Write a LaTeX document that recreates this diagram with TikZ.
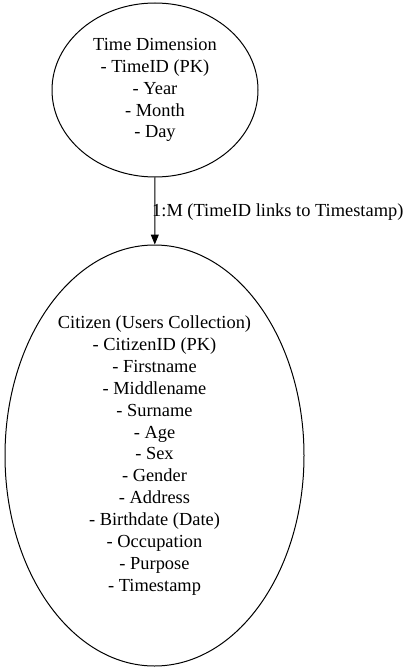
\documentclass[tikz,border=0pt]{standalone}
\usepackage{fontspec}
\setmainfont{Liberation Serif}
\usetikzlibrary{shapes.geometric}
\usetikzlibrary{arrows.meta}

\tikzset{
  entity/.style={draw, ellipse, line width=1pt, inner sep=0pt, align=center,
    font=\fontsize{18.4}{21.9}\selectfont},
  link/.style={line width=1pt, -{Triangle[length=10pt, width=8pt]}}
}

\begin{document}
\begin{tikzpicture}[x=1pt, y=-1pt]
\useasboundingbox (0, 0) rectangle (412, 671);

\node[entity, minimum width=206pt, minimum height=174pt] (time) at (155, 90)
  {Time Dimension\\- TimeID (PK)\\- Year\\- Month\\- Day};

\node[entity, minimum width=299pt, minimum height=421pt] (citizen) at (154.5, 455.5)
  {Citizen (Users Collection)\\- CitizenID (PK)\\- Firstname\\- Middlename\\- Surname\\- Age\\- Sex\\- Gender\\- Address\\- Birthdate (Date)\\- Occupation\\- Purpose\\- Timestamp};

\draw[link] (time) -- (citizen);
\node[anchor=west, inner sep=0pt, font=\fontsize{18.4}{21.9}\selectfont] (card) at (152, 212)
  {1:M (TimeID links to Timestamp)};

\end{tikzpicture}
\end{document}
